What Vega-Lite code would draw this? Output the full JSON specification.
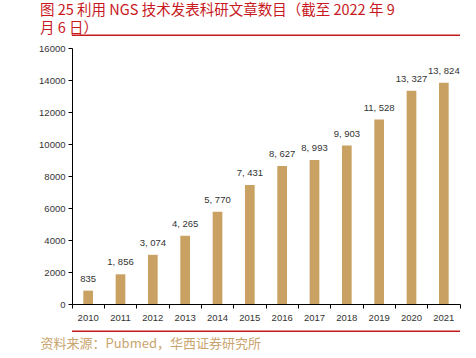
{
  "$schema": "https://vega.github.io/schema/vega-lite/v6.json",
  "autosize": "none",
  "width": 388,
  "height": 256,
  "padding": {"left": 72, "top": 48, "right": 16, "bottom": 54},
  "background": "white",
  "config": {"view": {"stroke": null}, "font": "Liberation Sans"},
  "title": {
    "text": ["图 25  利用 NGS 技术发表科研文章数目（截至 2022 年 9", "月 6 日）"],
    "anchor": "start",
    "frame": "group",
    "dx": -32,
    "dy": 16,
    "offset": 0,
    "baseline": "bottom",
    "font": "Noto Sans CJK SC",
    "fontSize": 14.5,
    "fontWeight": "normal",
    "color": "#C8191E",
    "lineHeight": 18
  },
  "data": {
    "values": [
      {"year": "2010", "count": 835, "label": "835"},
      {"year": "2011", "count": 1856, "label": "1, 856"},
      {"year": "2012", "count": 3074, "label": "3, 074"},
      {"year": "2013", "count": 4265, "label": "4, 265"},
      {"year": "2014", "count": 5770, "label": "5, 770"},
      {"year": "2015", "count": 7431, "label": "7, 431"},
      {"year": "2016", "count": 8627, "label": "8, 627"},
      {"year": "2017", "count": 8993, "label": "8, 993"},
      {"year": "2018", "count": 9903, "label": "9, 903"},
      {"year": "2019", "count": 11528, "label": "11, 528"},
      {"year": "2020", "count": 13327, "label": "13, 327"},
      {"year": "2021", "count": 13824, "label": "13, 824"}
    ]
  },
  "encoding": {
    "x": {
      "field": "year",
      "type": "nominal",
      "sort": null,
      "scale": {"paddingInner": 0, "paddingOuter": 0},
      "axis": {
        "title": "资料来源：Pubmed，华西证券研究所",
        "titleFont": "Noto Sans CJK SC",
        "titleFontSize": 13,
        "titleFontWeight": "normal",
        "titleColor": "#C9A46E",
        "titleAnchor": "start",
        "titleAlign": "left",
        "titleBaseline": "middle",
        "titleX": -32,
        "titleY": 39,
        "labelAngle": 0,
        "labelFontSize": 9.5,
        "labelColor": "#333333",
        "labelPadding": 4,
        "domainColor": "#000000",
        "domainWidth": 1,
        "tickColor": "#000000",
        "tickSize": 4,
        "bandPosition": 1,
        "tickExtra": true
      }
    },
    "y": {
      "field": "count",
      "type": "quantitative",
      "scale": {"domain": [0, 16000], "nice": false},
      "axis": {
        "title": null,
        "values": [0, 2000, 4000, 6000, 8000, 10000, 12000, 14000, 16000],
        "format": "d",
        "grid": false,
        "labelFontSize": 9.5,
        "labelColor": "#333333",
        "labelPadding": 3,
        "domainColor": "#000000",
        "tickColor": "#000000",
        "tickSize": 4
      }
    }
  },
  "layer": [
    {
      "mark": {"type": "bar", "color": "#C9A263", "width": {"band": 0.3}}
    },
    {
      "mark": {"type": "text", "baseline": "bottom", "dy": -7, "fontSize": 9.5, "color": "#333333"},
      "encoding": {"text": {"field": "label"}}
    },
    {
      "data": {"values": [{"pos": 16800}, {"pos": -1700}]},
      "mark": {"type": "rule", "color": "#C8191E", "strokeWidth": 1.5},
      "encoding": {
        "x": null,
        "y": {"field": "pos", "type": "quantitative"}
      }
    }
  ]
}
